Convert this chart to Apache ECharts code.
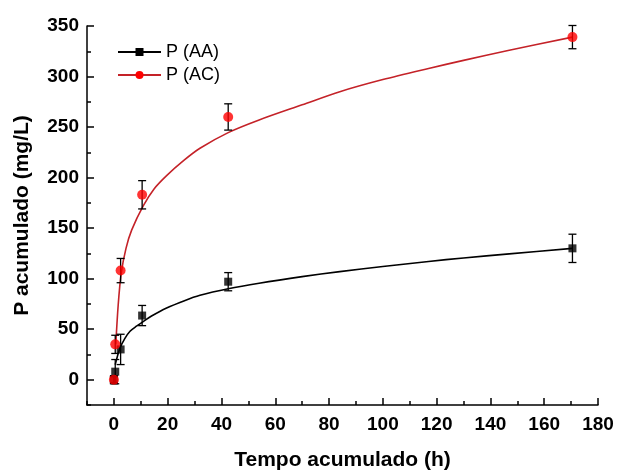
<!DOCTYPE html>
<html>
<head>
<meta charset="utf-8">
<script src="https://cdn.jsdelivr.net/npm/echarts@6/dist/echarts.min.js"></script>
<style>
  html, body { margin: 0; padding: 0; background: #fff; }
  #chart { width: 618px; height: 476px; }
</style>
</head>
<body>
<div id="chart"></div>
<script>
// dados medidos (tempo em h, P em mg/L)
var timeH = [0, 0.5, 2.5, 10.5, 42.5, 170.5];
var pAA = [0, 8, 30, 63.5, 97, 130];
var errAA = [4, 12, 15, 10, 9, 14];
var pAC = [0, 35, 108, 183, 260, 339];
var errAC = [3, 9, 12, 14, 13, 11.5];

// curvas ajustadas
var fitAAx = [0.5, 2.2, 4.1, 6, 8.4, 10.9, 14, 19.6, 26, 32, 42.5, 54, 70, 84, 100, 117, 130, 147, 170.5];
var fitAAy = [15, 31, 41, 48, 53, 57.5, 63, 71, 78, 83.5, 90, 95.5, 102, 107, 112, 117, 120.5, 124.5, 130];
var fitACx = [0.7, 1.6, 2.7, 4.5, 6.6, 10.9, 15, 19.6, 26, 32, 42.5, 54, 70, 84, 100, 117, 130, 147, 170.5];
var fitACy = [35, 74, 105, 130, 148, 172, 189, 202, 217, 229, 244.5, 257, 272, 285, 297, 308, 316, 326, 339];

// marcas dos eixos
var xTicks = [0, 20, 40, 60, 80, 100, 120, 140, 160, 180];
var xMinor = [-10, 10, 30, 50, 70, 90, 110, 130, 150, 170];
var yTicks = [0, 50, 100, 150, 200, 250, 300, 350];
var yMinor = [-25, 25, 75, 125, 175, 225, 275, 325];

var chart = echarts.init(document.getElementById('chart'));
var font = "'Liberation Sans', Arial, sans-serif";

function pairs(xs, ys) {
    return xs.map(function (x, i) { return [x, ys[i]]; });
}

function errorBars(ys, errs) {
    return timeH.map(function (t, i) { return [t, ys[i], errs[i]]; });
}

// barras de erro desenhadas pelas coordenadas do eixo
function renderErr(params, api) {
    var x = api.value(0), y = api.value(1), e = api.value(2);
    var hi = api.coord([x, y + e]);
    var lo = api.coord([x, y - e]);
    var w = 4;
    var st = { stroke: '#000', lineWidth: 1.3 };
    return {
        type: 'group',
        children: [
            { type: 'line', shape: { x1: hi[0], y1: hi[1], x2: lo[0], y2: lo[1] }, style: st },
            { type: 'line', shape: { x1: hi[0] - w, y1: hi[1], x2: hi[0] + w, y2: hi[1] }, style: st },
            { type: 'line', shape: { x1: lo[0] - w, y1: lo[1], x2: lo[0] + w, y2: lo[1] }, style: st }
        ]
    };
}

var axisLineStyle = { color: '#000', width: 1.5 };

var option = {
    backgroundColor: '#fff',
    animation: false,
    grid: { left: 87, right: 20, top: 26, bottom: 69 },
    legend: {
        data: ['P (AA)', 'P (AC)'],
        orient: 'vertical',
        left: 112,
        top: 38,
        itemWidth: 43,
        itemHeight: 10,
        itemGap: 5,
        textStyle: { fontFamily: font, fontSize: 18, color: '#000', lineHeight: 18 }
    },
    xAxis: [{
        type: 'value',
        min: -10,
        max: 180,
        name: 'Tempo acumulado (h)',
        nameLocation: 'middle',
        nameGap: 45,
        nameTextStyle: { fontFamily: font, fontSize: 21, fontWeight: 'bold', color: '#000' },
        axisLine: { onZero: false, lineStyle: axisLineStyle },
        axisTick: { inside: true, length: 7, customValues: xTicks, lineStyle: axisLineStyle },
        axisLabel: { customValues: xTicks, margin: 10, fontFamily: font, fontSize: 19, fontWeight: 'bold', color: '#000' },
        splitLine: { show: false }
    }, {
        type: 'value',
        min: -10,
        max: 180,
        position: 'bottom',
        axisLine: { show: false, onZero: false },
        axisTick: { inside: true, length: 4, customValues: xMinor, lineStyle: axisLineStyle },
        axisLabel: { show: false },
        splitLine: { show: false }
    }],
    yAxis: [{
        type: 'value',
        min: -25,
        max: 350,
        name: 'P acumulado (mg/L)',
        nameLocation: 'middle',
        nameGap: 54,
        nameTextStyle: { fontFamily: font, fontSize: 21, fontWeight: 'bold', color: '#000' },
        axisLine: { show: true, onZero: false, lineStyle: axisLineStyle },
        axisTick: { show: true, inside: true, length: 7, customValues: yTicks, lineStyle: axisLineStyle },
        axisLabel: { customValues: yTicks, margin: 8, fontFamily: font, fontSize: 19, fontWeight: 'bold', color: '#000' },
        splitLine: { show: false }
    }, {
        type: 'value',
        min: -25,
        max: 350,
        position: 'left',
        axisLine: { show: false, onZero: false },
        axisTick: { show: true, inside: true, length: 4, customValues: yMinor, lineStyle: axisLineStyle },
        axisLabel: { show: false },
        splitLine: { show: false }
    }],
    series: [
        {
            name: 'P (AA)',
            type: 'line',
            data: pairs(fitAAx, fitAAy),
            smooth: 0.3,
            showSymbol: false,
            symbol: 'rect',
            symbolSize: 8,
            itemStyle: { color: '#000' },
            lineStyle: { color: '#000', width: 1.6 },
            z: 2
        },
        {
            name: 'P (AC)',
            type: 'line',
            data: pairs(fitACx, fitACy),
            smooth: 0.3,
            showSymbol: false,
            symbol: 'circle',
            symbolSize: 9,
            itemStyle: { color: '#ff0000' },
            lineStyle: { color: '#c42228', width: 1.6 },
            z: 2
        },
        {
            name: 'errAA',
            type: 'custom',
            data: errorBars(pAA, errAA),
            encode: { x: 0, y: 1 },
            renderItem: renderErr,
            z: 3
        },
        {
            name: 'errAC',
            type: 'custom',
            data: errorBars(pAC, errAC),
            encode: { x: 0, y: 1 },
            renderItem: renderErr,
            z: 3
        },
        {
            name: 'P (AA)',
            type: 'scatter',
            data: pairs(timeH, pAA),
            symbol: 'rect',
            symbolSize: 8,
            itemStyle: { color: '#000' },
            z: 4
        },
        {
            name: 'P (AC)',
            type: 'scatter',
            data: pairs(timeH, pAC),
            symbol: 'circle',
            symbolSize: 10,
            itemStyle: { color: '#ff0000' },
            z: 5
        }
    ]
};

chart.setOption(option);
</script>
</body>
</html>
